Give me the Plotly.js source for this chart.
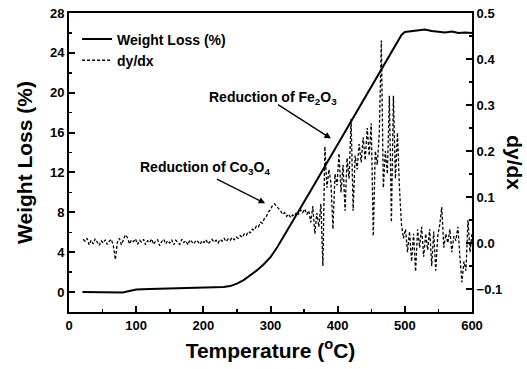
<!DOCTYPE html>
<html>
<head>
<meta charset="utf-8">
<script src="https://cdn.plot.ly/plotly-3.0.1.min.js"></script>
<style>html,body{margin:0;padding:0;background:#fff;}#chart{width:527px;height:369px;}</style>
</head>
<body>
<div id="chart"></div>
<script>
// Weight loss (%) vs temperature (°C)
const wtTemp = [20, 40, 60, 80, 90, 100, 120, 150, 180, 200, 220, 230, 240, 250, 260, 270, 280, 290, 300, 310, 320, 340, 360, 380, 400, 420, 440, 460, 480, 490, 495, 500, 510, 520, 530, 540, 550, 560, 570, 580, 590, 600];
const wtLoss = [0.0, -0.02, -0.08, -0.05, 0.1, 0.25, 0.3, 0.35, 0.4, 0.45, 0.48, 0.52, 0.6, 0.85, 1.2, 1.7, 2.2, 2.8, 3.5, 4.5, 5.6, 7.9, 10.2, 12.5, 14.8, 17.1, 19.4, 21.7, 24.0, 25.2, 25.8, 26.1, 26.2, 26.25, 26.35, 26.2, 26.1, 26.05, 26.15, 26.0, 26.05, 26.0];

// dy/dx vs temperature (°C)
const dTemp = [21, 24, 27, 30, 33, 36, 39, 42, 45, 48, 51, 54, 57, 60, 63, 66, 69, 72, 75, 78, 81, 84, 87, 90, 93, 96, 99,
  102, 105, 108, 111, 114, 117, 120, 123, 126, 129, 132, 135, 138, 141, 144, 147, 150, 153, 156, 159, 162, 165, 168, 171, 174, 177, 180, 183, 186, 189, 192, 195, 198,
  201, 204, 207, 210, 213, 216, 219, 222, 225, 228, 231, 234, 237, 240, 243, 246, 249, 252, 255, 258, 261, 264, 267, 270, 273, 276, 279, 282, 285, 288, 291, 294, 297,
  300, 303, 306, 309, 312, 315, 318, 321, 324, 327, 330, 333, 336, 339, 342, 345, 348, 351, 354, 357, 360, 363, 366, 369, 372, 375, 378, 381, 384, 387, 390, 393, 396, 399,
  402, 405, 408, 411, 414, 417, 420, 423, 426, 429, 432, 435, 438, 441, 444, 447, 450, 453, 456, 459, 462, 465, 468, 471, 474, 477, 480, 483, 486, 489, 492, 495, 498,
  501, 504, 507, 510, 513, 516, 519, 522, 525, 528, 531, 534, 537, 540, 543, 546, 549, 552, 555, 558, 561, 564, 567, 570, 573, 576, 579, 582, 585, 588, 591, 594, 597, 600];
const dydx = [0.008, 0.004, 0.010, -0.004, 0.006, -0.002, 0.009, 0.001, -0.005, 0.005, 0.000, 0.007, -0.003, 0.004, 0.008, -0.006, -0.036, 0.002, 0.010, -0.004, 0.006, 0.018, 0.012, -0.002, 0.007, 0.003, 0.009,
  -0.003, 0.006, 0.002, 0.008, -0.004, 0.005, 0.001, 0.009, -0.003, 0.004, 0.007, -0.006, 0.003, 0.008, -0.002, 0.005, 0.000, 0.007, -0.004, 0.006, 0.002, -0.003, 0.008, 0.001, 0.005, -0.004, 0.007, 0.002, -0.002, 0.006, 0.003, -0.003, 0.005,
  0.001, 0.007, -0.002, 0.004, 0.008, 0.002, 0.006, 0.000, 0.008, 0.004, 0.010, 0.003, 0.009, 0.006, 0.012, 0.007, 0.013, 0.010, 0.016, 0.012, 0.020, 0.017, 0.025, 0.022, 0.030, 0.028, 0.037, 0.035, 0.045, 0.043, 0.054, 0.058, 0.068,
  0.072, 0.082, 0.085, 0.080, 0.075, 0.070, 0.062, 0.066, 0.058, 0.063, 0.055, 0.061, 0.058, 0.068, 0.063, 0.072, 0.066, 0.074, 0.062, 0.070, 0.045, 0.080, 0.020, 0.065, 0.035, 0.085, -0.050, 0.210, 0.120, 0.160, 0.130, 0.030, 0.150, 0.125,
  0.195, 0.110, 0.170, 0.070, 0.185, 0.140, 0.270, 0.070, 0.190, 0.160, 0.215, 0.175, 0.230, 0.180, 0.250, 0.190, 0.260, 0.015, 0.200, 0.170, 0.240, 0.440, 0.120, 0.200, 0.150, 0.320, 0.045, 0.320, 0.140, 0.240, 0.120, 0.040, 0.010,
  0.030, -0.020, 0.025, -0.040, 0.020, -0.062, 0.030, -0.010, 0.035, -0.030, 0.020, -0.015, 0.030, -0.050, 0.025, -0.060, 0.015, 0.040, 0.078, -0.010, 0.020, 0.000, 0.030, -0.020, 0.015, 0.005, 0.035, -0.030, -0.085, -0.040, -0.060, 0.050, -0.020, 0.020];

const FONT = 'Liberation Sans, Arial, sans-serif';

const traces = [
  {x: wtTemp, y: wtLoss, type: 'scatter', mode: 'lines', name: 'Weight Loss (%)',
   line: {color: '#000', width: 2}, yaxis: 'y'},
  {x: dTemp, y: dydx, type: 'scatter', mode: 'lines', name: 'dy/dx',
   line: {color: '#000', width: 1.3, dash: '3px,2px'}, yaxis: 'y2'}
];

const axisCommon = {
  showline: true, linecolor: '#000', linewidth: 2, showgrid: false, zeroline: false,
  ticks: 'inside', ticklen: 6, tickwidth: 2, tickcolor: '#000',
  tickfont: {family: FONT, size: 13, color: '#000', weight: 'bold'}
};

const layout = {
  width: 527, height: 369,
  margin: {l: 69, r: 55, t: 13, b: 57},
  paper_bgcolor: '#fff', plot_bgcolor: '#fff',
  showlegend: true,
  legend: {x: 0.02, y: 0.965, xanchor: 'left', yanchor: 'top', bgcolor: 'rgba(0,0,0,0)',
           font: {family: FONT, size: 14, color: '#000', weight: 'bold'}, tracegroupgap: 0},
  xaxis: Object.assign({}, axisCommon, {
    range: [0, 600], dtick: 100, tick0: 0, mirror: true,
    minor: {dtick: 50, ticks: 'inside', ticklen: 3, tickwidth: 1.5, tickcolor: '#000', showgrid: false},
    title: {text: 'Temperature (<sup>o</sup>C)', standoff: 12, font: {family: FONT, size: 21, color: '#000', weight: 'bold'}}
  }),
  yaxis: Object.assign({}, axisCommon, {
    range: [-2, 28], dtick: 4, tick0: 0, mirror: true,
    minor: {dtick: 2, ticks: 'inside', ticklen: 3, tickwidth: 1.5, tickcolor: '#000', showgrid: false},
    title: {text: 'Weight Loss (%)', standoff: 12, font: {family: FONT, size: 21, color: '#000', weight: 'bold'}}
  }),
  yaxis2: Object.assign({}, axisCommon, {
    overlaying: 'y', side: 'right', anchor: 'x',
    range: [-0.15, 0.5], dtick: 0.1, tick0: 0, tickformat: '.1f',
    minor: {dtick: 0.05, ticks: 'inside', ticklen: 3, tickwidth: 1.5, tickcolor: '#000', showgrid: false}
  }),
  annotations: [
    {xref: 'paper', yref: 'paper', x: 1.105, y: 0.5, text: 'dy/dx', textangle: 90, showarrow: false,
     font: {family: FONT, size: 21, color: '#000', weight: 'bold'}, xanchor: 'center', yanchor: 'middle'},
    {xref: 'x', yref: 'y', x: 304, y: 19.5, text: 'Reduction of Fe<sub>2</sub>O<sub>3</sub>', showarrow: false,
     font: {family: FONT, size: 14, color: '#000', weight: 'bold'}},
    {xref: 'x', yref: 'y', x: 203, y: 12.4, text: 'Reduction of Co<sub>3</sub>O<sub>4</sub>', showarrow: false,
     font: {family: FONT, size: 14, color: '#000', weight: 'bold'}},
    {xref: 'x', yref: 'y', axref: 'x', ayref: 'y', x: 390, y: 15.4, ax: 309, ay: 18.9, text: '',
     showarrow: true, arrowhead: 2, arrowsize: 1, arrowwidth: 1.3, arrowcolor: '#000'},
    {xref: 'x', yref: 'y', axref: 'x', ayref: 'y', x: 292, y: 8.9, ax: 218, ay: 11.4, text: '',
     showarrow: true, arrowhead: 2, arrowsize: 1, arrowwidth: 1.3, arrowcolor: '#000'}
  ]
};

Plotly.newPlot('chart', traces, layout, {displayModeBar: false, staticPlot: true});
</script>
</body>
</html>
